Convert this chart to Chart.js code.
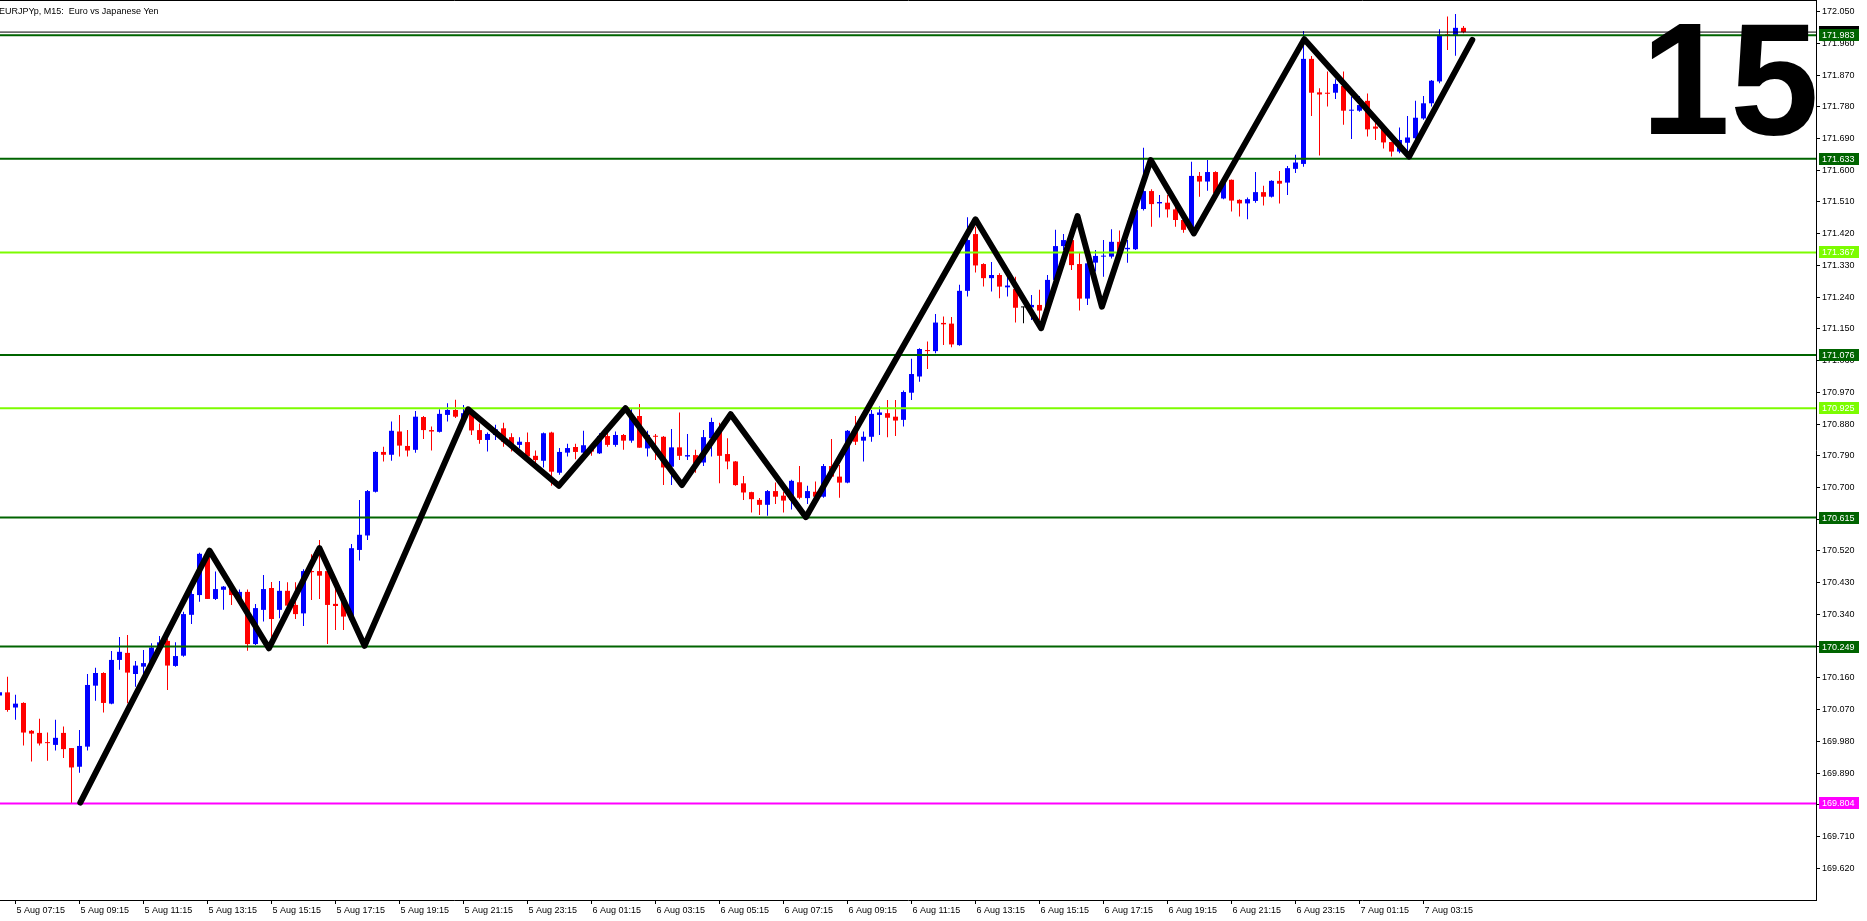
<!DOCTYPE html>
<html>
<head>
<meta charset="utf-8">
<script src="https://cdn.jsdelivr.net/npm/chart.js@4.4.0/dist/chart.umd.min.js"></script>
<style>
    html, body { margin: 0; padding: 0; background: #fff; overflow: hidden; }
    canvas { display: block; }
</style>
</head>
<body>
<canvas id="grafico" width="1867" height="921"></canvas>
<script>
// EURJPYp M15, candles start one bar before 5 Aug 07:00
const primeiroIndice = -1;

const aberturas = [170.110,170.119,170.076,170.089,170.010,170.004,169.977,169.970,170.004,169.961,169.908,169.965,170.138,170.174,170.087,170.211,170.231,170.171,170.192,170.201,170.247,170.265,170.194,170.223,170.339,170.395,170.509,170.384,170.410,170.414,170.381,170.404,170.256,170.353,170.415,170.353,170.407,170.367,170.343,170.463,170.463,170.463,170.370,170.386,170.324,170.523,170.564,170.688,170.801,170.793,170.859,170.818,170.807,170.900,170.863,170.858,170.906,170.920,170.897,170.911,170.863,170.835,170.849,170.868,170.843,170.821,170.829,170.790,170.776,170.856,170.742,170.799,170.815,170.799,170.814,170.797,170.846,170.821,170.849,170.833,170.903,170.811,170.846,170.844,170.759,170.814,170.788,170.792,170.771,170.840,170.859,170.795,170.774,170.712,170.687,170.665,170.651,170.690,170.677,170.665,170.715,170.670,170.688,170.674,170.761,170.731,170.714,170.861,170.833,170.844,170.906,170.911,170.901,170.892,170.969,171.015,171.090,171.087,171.167,171.165,171.104,171.258,171.419,171.334,171.294,171.303,171.268,171.263,171.211,171.211,171.218,171.213,171.289,171.385,171.402,171.334,171.236,171.338,171.355,171.355,171.397,171.376,171.376,171.490,171.541,171.506,171.508,171.489,171.459,171.431,171.584,171.568,171.595,171.520,171.573,171.516,171.506,171.513,171.538,171.525,171.570,171.565,171.604,171.618,171.916,171.821,171.820,171.820,171.839,171.769,171.769,171.797,171.724,171.719,171.680,171.653,171.678,171.691,171.747,171.790,171.852,171.986,171.981,172.004];

const maximas = [170.126,170.163,170.112,170.091,170.012,170.044,170.005,170.041,170.022,169.961,170.012,170.171,170.189,170.176,170.236,170.276,170.282,170.208,170.239,170.258,170.279,170.272,170.261,170.348,170.410,170.515,170.524,170.462,170.421,170.419,170.411,170.411,170.370,170.452,170.432,170.435,170.431,170.431,170.468,170.511,170.551,170.476,170.430,170.400,170.540,170.665,170.693,170.803,170.816,170.887,170.906,170.863,170.917,170.903,170.873,170.922,170.939,170.949,170.934,170.915,170.882,170.856,170.878,170.884,170.854,170.843,170.856,170.805,170.856,170.858,170.812,170.824,170.824,170.861,170.821,170.854,170.856,170.859,170.852,170.922,170.937,170.861,170.852,170.846,170.866,170.913,170.852,170.807,170.863,170.898,170.884,170.840,170.775,170.733,170.688,170.670,170.693,170.714,170.688,170.722,170.761,170.705,170.717,170.767,170.838,170.764,170.863,170.903,170.859,170.920,170.930,170.948,170.948,170.975,171.065,171.095,171.114,171.192,171.185,171.184,171.275,171.467,171.440,171.336,171.340,171.308,171.303,171.298,171.213,171.246,171.261,171.303,171.431,171.419,171.417,171.365,171.341,171.374,171.402,171.433,171.429,171.402,171.497,171.664,171.546,171.530,171.530,171.497,171.478,171.624,171.595,171.629,171.597,171.574,171.574,171.518,171.523,171.595,171.556,171.572,171.598,171.612,171.644,171.995,171.924,171.833,171.880,171.858,171.880,171.809,171.811,171.818,171.743,171.729,171.681,171.721,171.754,171.797,171.811,171.856,172.000,172.036,172.043,172.009];

const minimas = [170.107,170.064,170.041,169.968,169.923,169.968,169.925,169.954,169.933,169.804,169.891,169.954,170.095,170.062,170.085,170.183,170.088,170.135,170.164,170.197,170.239,170.126,170.192,170.220,170.313,170.376,170.384,170.381,170.353,170.367,170.367,170.237,170.253,170.320,170.258,170.329,170.353,170.327,170.307,170.381,170.384,170.256,170.296,170.296,170.315,170.493,170.551,170.686,170.774,170.776,170.788,170.788,170.799,170.838,170.805,170.856,170.887,170.897,170.892,170.849,170.824,170.802,170.835,170.816,170.802,170.811,170.771,170.769,170.757,170.705,170.736,170.788,170.780,170.792,170.790,170.795,170.816,170.816,170.807,170.827,170.813,170.788,170.778,170.707,170.707,170.778,170.778,170.742,170.761,170.788,170.712,170.752,170.705,170.665,170.629,170.622,170.620,170.653,170.629,170.638,170.667,170.653,170.665,170.671,170.729,170.671,170.712,170.821,170.774,170.830,170.849,170.843,170.846,170.873,170.948,171.000,171.036,171.081,171.104,171.098,171.102,171.242,171.310,171.270,171.256,171.237,171.242,171.168,171.166,171.175,171.175,171.208,171.284,171.374,171.317,171.202,171.218,171.313,171.298,171.350,171.360,171.338,171.374,171.486,171.440,171.466,171.466,171.440,171.423,171.417,171.525,171.542,171.525,171.518,171.483,171.469,171.461,171.508,171.500,171.523,171.506,171.530,171.592,171.610,171.754,171.642,171.781,171.802,171.729,171.689,171.766,171.696,171.686,171.662,171.639,171.648,171.639,171.689,171.743,171.781,171.847,171.941,171.925,171.989];

const fechamentos = [170.119,170.069,170.087,170.005,170.002,169.974,169.975,169.990,169.958,169.906,169.967,170.140,170.174,170.089,170.211,170.234,170.175,170.195,170.202,170.246,170.261,170.195,170.222,170.341,170.398,170.512,170.384,170.412,170.419,170.395,170.404,170.256,170.358,170.412,170.327,170.407,170.365,170.341,170.463,170.460,170.450,170.367,170.364,170.334,170.528,170.566,170.690,170.801,170.793,170.861,170.819,170.805,170.901,170.863,170.859,170.909,170.920,170.901,170.911,170.862,170.835,170.852,170.865,170.830,170.816,170.830,170.788,170.778,170.854,170.745,170.801,170.812,170.801,170.820,170.802,170.846,170.821,170.849,170.833,170.906,170.813,170.849,170.844,170.757,170.814,170.790,170.792,170.769,170.843,170.886,170.790,170.774,170.707,170.686,170.667,170.651,170.690,170.674,170.663,170.719,170.671,170.690,170.674,170.761,170.731,170.714,170.861,170.830,170.844,170.909,170.913,170.898,170.890,170.971,171.022,171.093,171.087,171.168,171.163,171.106,171.258,171.402,171.330,171.294,171.303,171.270,171.273,171.210,171.211,171.218,171.202,171.289,171.385,171.402,171.331,171.236,171.336,171.357,171.357,171.397,171.369,171.380,171.487,171.541,171.504,171.510,171.489,171.459,171.431,171.584,171.568,171.595,171.535,171.573,171.514,171.506,171.518,171.538,171.525,171.570,171.562,171.606,171.622,171.916,171.820,171.815,171.817,171.845,171.769,171.771,171.785,171.716,171.718,171.679,171.653,171.686,171.693,171.749,171.790,171.854,171.984,171.981,172.004,171.992];

// niveis horizontais
const niveis = [171.983, 171.633, 171.367, 171.076, 170.925, 170.615, 170.249, 169.804];
const coresNiveis = ['#006400', '#006400', '#7cfc00', '#006400', '#7cfc00', '#006400', '#006400', '#ff00ff'];

// zigzag desenhado a mao (posicao em barras, preco)
const zigzagBarras = [9.1, 25.25, 32.67, 39.0, 44.63, 57.58, 68.92, 77.25, 84.3, 90.4, 99.8, 121.0, 129.2, 133.75, 136.8, 142.9, 148.3, 162.1, 175.2, 183.1];
const zigzagPrecos = [169.806, 170.521, 170.244, 170.528, 170.251, 170.922, 170.705, 170.925, 170.707, 170.908, 170.616, 171.461, 171.152, 171.470, 171.213, 171.629, 171.421, 171.972, 171.639, 171.970];

// eixos
const ticksPreco = [169.620, 169.710, 169.800, 169.890, 169.980, 170.070, 170.160, 170.250, 170.340, 170.430, 170.520, 170.610, 170.700, 170.790, 170.880, 170.970, 171.060, 171.150, 171.240, 171.330, 171.420, 171.510, 171.600, 171.690, 171.780, 171.870, 171.960, 172.050];
const ticksTempoBarra = [1, 9, 17, 25, 33, 41, 49, 57, 65, 73, 81, 89, 97, 105, 113, 121, 129, 137, 145, 153, 161, 169, 177];
const ticksTempo = ['5 Aug 07:15', '5 Aug 09:15', '5 Aug 11:15', '5 Aug 13:15', '5 Aug 15:15', '5 Aug 17:15', '5 Aug 19:15', '5 Aug 21:15', '5 Aug 23:15', '6 Aug 01:15', '6 Aug 03:15', '6 Aug 05:15', '6 Aug 07:15', '6 Aug 09:15', '6 Aug 11:15', '6 Aug 13:15', '6 Aug 15:15', '6 Aug 17:15', '6 Aug 19:15', '6 Aug 21:15', '6 Aug 23:15', '7 Aug 01:15', '7 Aug 03:15'];

const X_MIN = -0.9375, X_MAX = 226.0625;
const Y_MIN = 169.530, Y_MAX = 172.083;
const FONTE = '"Liberation Sans", Arial, sans-serif';

document.addEventListener('DOMContentLoaded', function(){
    montarGrafico();
});

function corVela(k){
    if (fechamentos[k] > aberturas[k]) return '#0000ff';
    if (fechamentos[k] < aberturas[k]) return '#ff0000';
    return '#000000';
}

function montarGrafico() {
    const barras = aberturas.map((_, k) => primeiroIndice + k);
    const cores = aberturas.map((_, k) => corVela(k));
    const ultimo = fechamentos[fechamentos.length - 1];

    const datasets = [];

    datasets.push({
        type: 'line',
        data: zigzagBarras.map((b, k) => ({x: b, y: zigzagPrecos[k]})),
        borderColor: '#000000',
        borderWidth: 6,
        borderCapStyle: 'round',
        borderJoinStyle: 'round',
        pointRadius: 0,
        tension: 0,
        order: 0
    });

    niveis.forEach((v, k) => {
        datasets.push({
            type: 'line',
            data: [{x: X_MIN, y: v}, {x: X_MAX, y: v}],
            borderColor: coresNiveis[k],
            borderWidth: 2,
            pointRadius: 0,
            order: 1
        });
    });

    // linha do bid
    datasets.push({
        type: 'line',
        data: [{x: X_MIN, y: ultimo}, {x: X_MAX, y: ultimo}],
        borderColor: '#000000',
        borderWidth: 1,
        pointRadius: 0,
        order: 1
    });

    datasets.push({
        type: 'bar',
        data: barras.map((b, k) => ({x: b, y: [aberturas[k], fechamentos[k]]})),
        backgroundColor: cores,
        borderWidth: 0,
        grouped: false,
        categoryPercentage: 1,
        barPercentage: 1,
        maxBarThickness: 5,
        minBarLength: 1,
        inflateAmount: 0,
        order: 2
    });

    datasets.push({
        type: 'bar',
        data: barras.map((b, k) => ({x: b, y: [minimas[k], maximas[k]]})),
        backgroundColor: cores,
        borderWidth: 0,
        grouped: false,
        categoryPercentage: 1,
        barPercentage: 1,
        maxBarThickness: 1,
        minBarLength: 1,
        inflateAmount: 0,
        order: 3
    });

    const enfeites = {
        id: 'enfeites',
        afterDraw(chart) {
            const ctx = chart.ctx;
            const area = chart.chartArea;
            const escY = chart.scales.y;
            ctx.save();

            // borda de cima
            ctx.strokeStyle = '#000';
            ctx.lineWidth = 1;
            ctx.beginPath();
            ctx.moveTo(area.left, 0.5);
            ctx.lineTo(area.right + 1, 0.5);
            ctx.stroke();

            // titulo
            ctx.fillStyle = '#000';
            ctx.font = '9px ' + FONTE;
            ctx.textBaseline = 'middle';
            ctx.textAlign = 'left';
            ctx.fillText('EURJPYp, M15:  Euro vs Japanese Yen', -1, 12);

            // numero grande
            ctx.font = 'bold 160px ' + FONTE;
            ctx.textAlign = 'right';
            ctx.textBaseline = 'alphabetic';
            ctx.fillText('15', 1819, 134);

            // etiquetas de preco
            function etiqueta(valor, fundo) {
                const y = Math.round(escY.getPixelForValue(valor));
                ctx.fillStyle = fundo;
                ctx.fillRect(area.right + 3, y - 6, 40, 12);
                ctx.fillStyle = '#fff';
                ctx.font = '9px ' + FONTE;
                ctx.textAlign = 'left';
                ctx.textBaseline = 'middle';
                ctx.fillText(valor.toFixed(3), area.right + 6, y + 0.5);
            }
            etiqueta(ultimo, '#000000');
            niveis.forEach((v, k) => etiqueta(v, coresNiveis[k]));

            ctx.restore();
        }
    };

    const ctx = document.getElementById('grafico');
    new Chart(ctx, {
        type: 'bar',
        data: { datasets: datasets },
        options: {
            responsive: false,
            animation: false,
            devicePixelRatio: 1,
            events: [],
            layout: { padding: 0 },
            plugins: {
                legend: { display: false },
                tooltip: { enabled: false }
            },
            scales: {
                x: {
                    type: 'linear',
                    position: 'bottom',
                    offset: false,
                    min: X_MIN,
                    max: X_MAX,
                    grid: { offset: false, drawOnChartArea: false, drawTicks: true, tickLength: 4, color: '#000' },
                    border: { display: true, color: '#000' },
                    ticks: {
                        autoSkip: false,
                        maxRotation: 0,
                        align: 'start',
                        padding: 1,
                        labelOffset: 1,
                        color: '#000',
                        font: { family: FONTE, size: 9 },
                        callback: (v, i) => ticksTempo[i]
                    },
                    afterBuildTicks: s => { s.ticks = ticksTempoBarra.map(v => ({value: v})); },
                    afterFit: s => { s.height = 21; s.paddingLeft = 0; s.paddingRight = 0; }
                },
                y: {
                    type: 'linear',
                    position: 'right',
                    min: Y_MIN,
                    max: Y_MAX,
                    grid: { drawOnChartArea: false, drawTicks: true, tickLength: 4, color: '#000' },
                    border: { display: true, color: '#000' },
                    ticks: {
                        padding: 2,
                        color: '#000',
                        font: { family: FONTE, size: 9 },
                        callback: v => Number(v).toFixed(3)
                    },
                    afterBuildTicks: s => { s.ticks = ticksPreco.map(v => ({value: v})); },
                    afterFit: s => { s.width = 51; s.paddingTop = 0; s.paddingBottom = 0; }
                }
            }
        },
        plugins: [enfeites]
    });
}
</script>
</body>
</html>
